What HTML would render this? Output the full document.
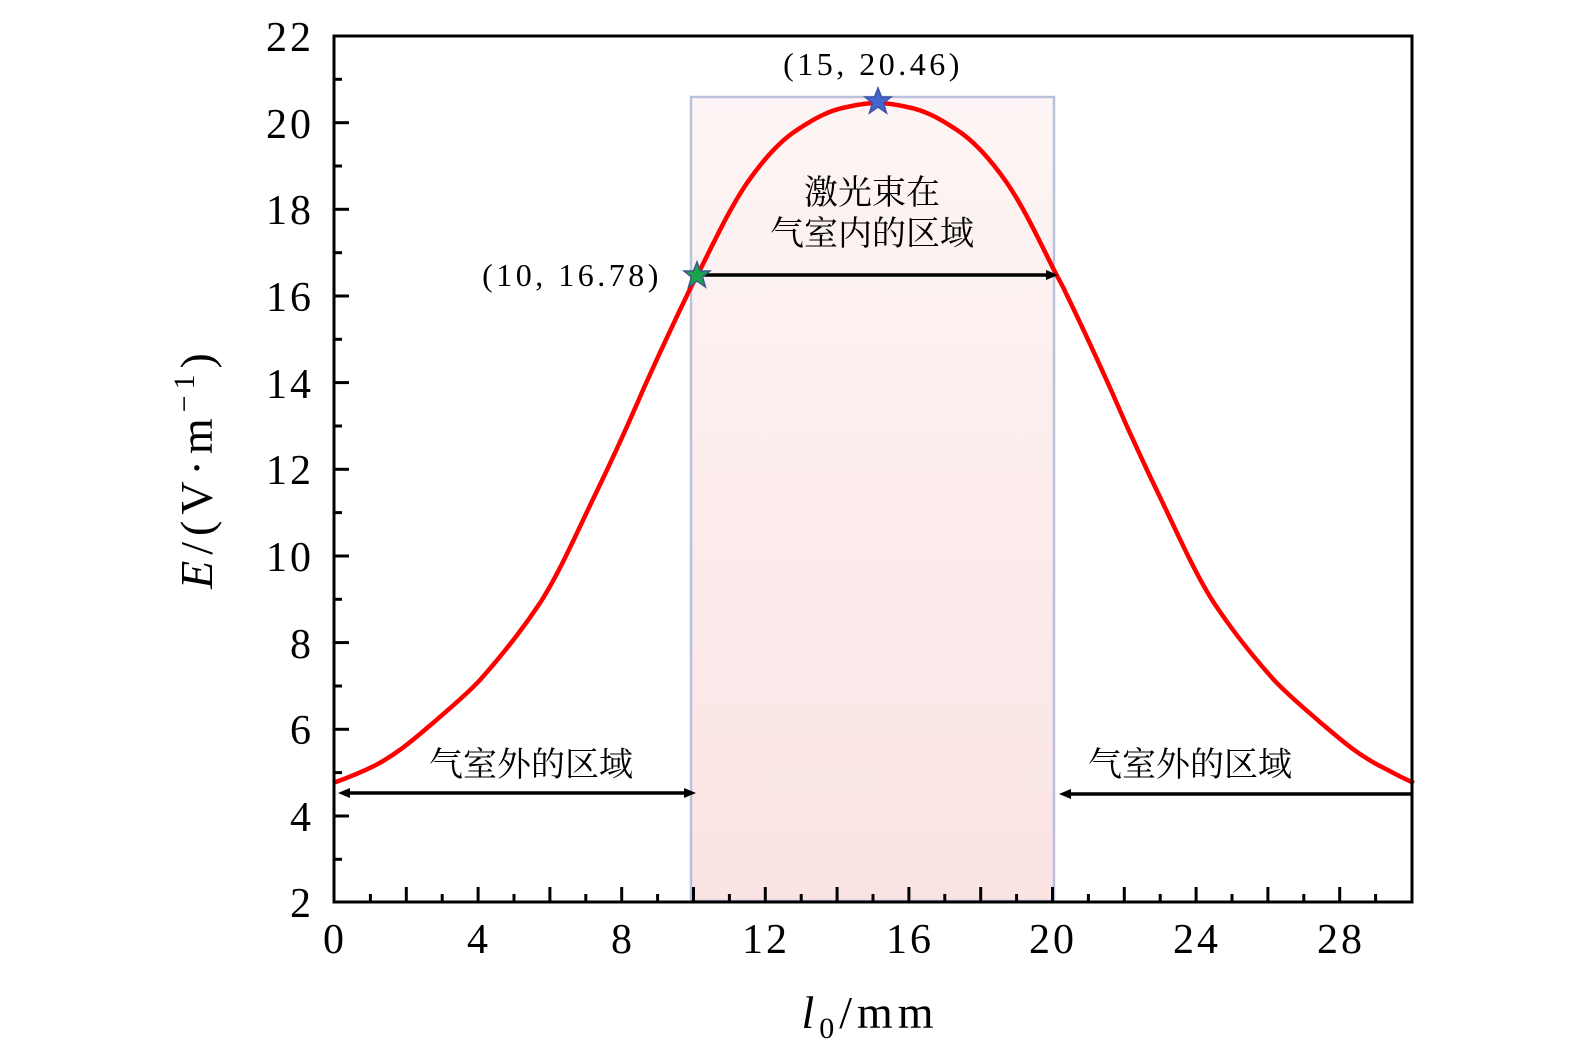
<!DOCTYPE html>
<html><head><meta charset="utf-8"><style>
html,body{margin:0;padding:0;background:#fff;}
svg{display:block;}
.t{font-family:"Liberation Serif",serif;font-size:42px;letter-spacing:3px;fill:#000;}
.c{font-family:"Liberation Serif","Noto Serif CJK SC",serif;font-size:34px;fill:#000;}
.a{font-family:"Liberation Serif",serif;font-size:32px;letter-spacing:3.5px;fill:#000;}
</style></head><body>
<svg width="1575" height="1063" viewBox="0 0 1575 1063" xmlns="http://www.w3.org/2000/svg">
<defs>
<linearGradient id="g" x1="0" y1="0" x2="0" y2="1">
<stop offset="0" stop-color="#fdf5f5"/><stop offset="1" stop-color="#fbe3e3"/>
</linearGradient>
</defs>
<rect x="691" y="97" width="363" height="804" fill="url(#g)" stroke="#b9c1dc" stroke-width="2.5"/>
<path d="M333,783 C350,777 362,772 376,765 C400,752 415,738 433,723 C450,708 465,696 480,680 C505,652 522,630 540,603 C560,572 578,530 596,493 C612,460 628,425 643,390 C660,352 676,318 691,287 L700,270 C715,240 730,208 747,183 C763,160 780,141 797,130 C815,118 830,110 847,107 C860,104 870,103 877,103 C884,103 894,104 907,107 C924,110 939,118 957,130 C974,141 991,160 1007,183 C1024,208 1039,240 1054,270 L1063,287 C1078,318 1094,352 1111,390 C1126,425 1142,460 1158,493 C1176,530 1194,572 1214,603 C1232,630 1249,652 1274,680 C1289,696 1304,708 1321,723 C1339,738 1354,752 1378,765 C1392,772 1400,777 1414,783" fill="none" stroke="#f00" stroke-width="4.5"/>
<rect x="334" y="36" width="1078" height="866" fill="none" stroke="#000" stroke-width="3"/>
<g stroke="#000" stroke-width="3">
<line x1="334" y1="122.7" x2="349" y2="122.7"/><line x1="334" y1="79.3" x2="342" y2="79.3"/>
<line x1="334" y1="209.3" x2="349" y2="209.3"/><line x1="334" y1="166" x2="342" y2="166"/>
<line x1="334" y1="296" x2="349" y2="296"/><line x1="334" y1="252.7" x2="342" y2="252.7"/>
<line x1="334" y1="382.6" x2="349" y2="382.6"/><line x1="334" y1="339.3" x2="342" y2="339.3"/>
<line x1="334" y1="469.3" x2="349" y2="469.3"/><line x1="334" y1="426" x2="342" y2="426"/>
<line x1="334" y1="556" x2="349" y2="556"/><line x1="334" y1="512.6" x2="342" y2="512.6"/>
<line x1="334" y1="642.6" x2="349" y2="642.6"/><line x1="334" y1="599.3" x2="342" y2="599.3"/>
<line x1="334" y1="729.3" x2="349" y2="729.3"/><line x1="334" y1="686" x2="342" y2="686"/>
<line x1="334" y1="816" x2="349" y2="816"/><line x1="334" y1="772.6" x2="342" y2="772.6"/>
<line x1="334" y1="859.3" x2="342" y2="859.3"/>
</g>
<g stroke="#000" stroke-width="3">
<line x1="370.4" y1="902" x2="370.4" y2="894"/><line x1="406.3" y1="902" x2="406.3" y2="887"/>
<line x1="442.2" y1="902" x2="442.2" y2="894"/><line x1="478.1" y1="902" x2="478.1" y2="887"/>
<line x1="514" y1="902" x2="514" y2="894"/><line x1="549.9" y1="902" x2="549.9" y2="887"/>
<line x1="585.8" y1="902" x2="585.8" y2="894"/><line x1="621.7" y1="902" x2="621.7" y2="887"/>
<line x1="657.6" y1="902" x2="657.6" y2="894"/><line x1="693.5" y1="902" x2="693.5" y2="887"/>
<line x1="729.4" y1="902" x2="729.4" y2="894"/><line x1="765.3" y1="902" x2="765.3" y2="887"/>
<line x1="801.2" y1="902" x2="801.2" y2="894"/><line x1="837.1" y1="902" x2="837.1" y2="887"/>
<line x1="873" y1="902" x2="873" y2="894"/><line x1="908.9" y1="902" x2="908.9" y2="887"/>
<line x1="944.8" y1="902" x2="944.8" y2="894"/><line x1="980.7" y1="902" x2="980.7" y2="887"/>
<line x1="1016.6" y1="902" x2="1016.6" y2="894"/><line x1="1052.5" y1="902" x2="1052.5" y2="887"/>
<line x1="1088.4" y1="902" x2="1088.4" y2="894"/><line x1="1124.3" y1="902" x2="1124.3" y2="887"/>
<line x1="1160.2" y1="902" x2="1160.2" y2="894"/><line x1="1196.1" y1="902" x2="1196.1" y2="887"/>
<line x1="1232" y1="902" x2="1232" y2="894"/><line x1="1267.9" y1="902" x2="1267.9" y2="887"/>
<line x1="1303.8" y1="902" x2="1303.8" y2="894"/><line x1="1339.7" y1="902" x2="1339.7" y2="887"/>
<line x1="1375.6" y1="902" x2="1375.6" y2="894"/>
</g>
<g class="t" text-anchor="end">
<text x="314" y="51">22</text><text x="314" y="138">20</text><text x="314" y="224">18</text>
<text x="314" y="311">16</text><text x="314" y="398">14</text><text x="314" y="484">12</text>
<text x="314" y="571">10</text><text x="314" y="658">8</text><text x="314" y="744">6</text>
<text x="314" y="831">4</text><text x="314" y="917">2</text>
</g>
<g class="t" text-anchor="middle">
<text x="335" y="953">0</text><text x="479" y="953">4</text><text x="623" y="953">8</text>
<text x="766" y="953">12</text><text x="910" y="953">16</text><text x="1053" y="953">20</text>
<text x="1197" y="953">24</text><text x="1341" y="953">28</text>
</g>
<text class="t" x="870" y="1028" text-anchor="middle" style="font-size:46px;letter-spacing:5px"><tspan font-style="italic">l</tspan><tspan font-size="30" dy="10">0</tspan><tspan dy="-10">/mm</tspan></text>
<text class="t" transform="translate(212,468) rotate(-90)" text-anchor="middle" style="font-size:46px;letter-spacing:6px"><tspan font-style="italic">E</tspan>/(V·m<tspan font-size="30" dy="-18">−1</tspan><tspan dy="18">)</tspan></text>
<g stroke="#000" stroke-width="3.5">
<line x1="703" y1="275" x2="1050" y2="275"/>
<line x1="346" y1="793" x2="688" y2="793"/>
<line x1="1068" y1="794" x2="1412" y2="794"/>
</g>
<g fill="#000">
<polygon points="1058,275 1046,270 1046,280"/>
<polygon points="338,793 350,788 350,798"/>
<polygon points="696,793 684,788 684,798"/>
<polygon points="1059,794 1071,789 1071,799"/>
</g>
<polygon points="697,262 700.5,271 710,271 702.5,277 705.5,287 697,281 688.5,287 691.5,277 684,271 693.5,271" fill="#1aa34a" stroke="#3b5a8a" stroke-width="1.5"/>
<polygon points="878,88 881.5,97 891,97 883.5,103 886.5,113 878,107 869.5,113 872.5,103 865,97 874.5,97" fill="#4466cc" stroke="#3a55a8" stroke-width="1.5"/>
<text class="a" x="873" y="75" text-anchor="middle">(15, 20.46)</text>
<text class="a" x="572" y="286" text-anchor="middle">(10, 16.78)</text>
<text class="c" x="872" y="204" text-anchor="middle">激光束在</text>
<text class="c" x="872" y="245" text-anchor="middle">气室内的区域</text>
<text class="c" x="531" y="776" text-anchor="middle">气室外的区域</text>
<text class="c" x="1190" y="776" text-anchor="middle">气室外的区域</text>
</svg>
</body></html>
